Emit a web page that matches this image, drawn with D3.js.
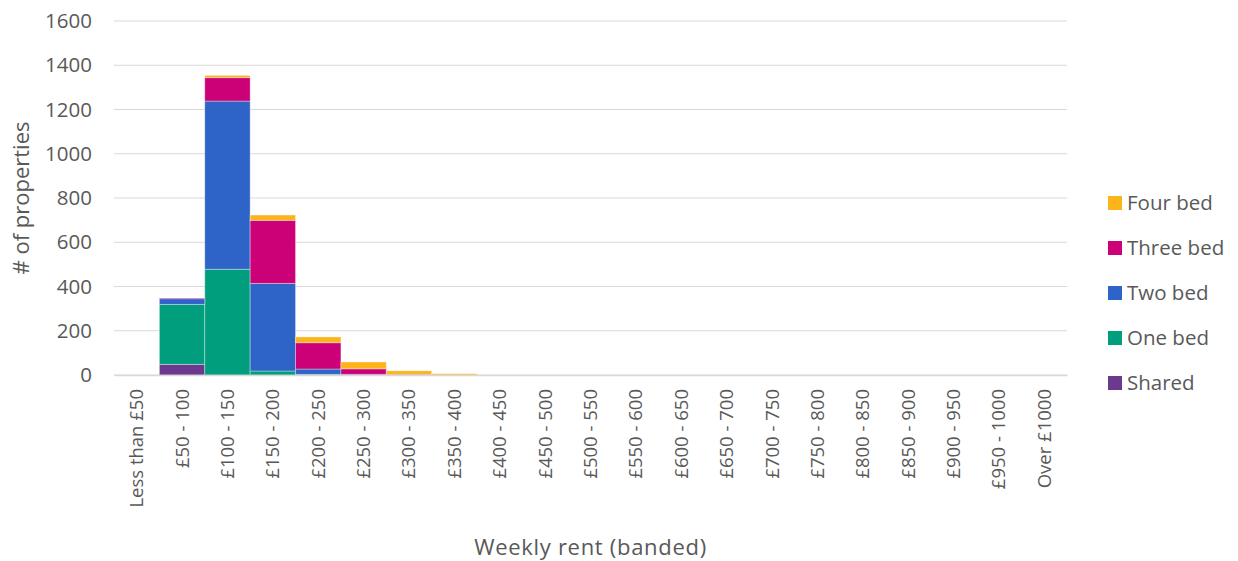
<!DOCTYPE html>
<html>
<head>
<meta charset="utf-8">
<script src="https://d3js.org/d3.v7.min.js"></script>
<style>
  body { margin: 0; background: #fff; }
  text { font-family: "Open Sans", sans-serif; fill: #595959; }
</style>
</head>
<body>
<div id="chart"></div>
<script>
  // rent bands along the x axis
  const bands = ['Less than £50', '£50 - 100', '£100 - 150', '£150 - 200', '£200 - 250',
    '£250 - 300', '£300 - 350', '£350 - 400', '£400 - 450', '£450 - 500', '£500 - 550',
    '£550 - 600', '£600 - 650', '£650 - 700', '£700 - 750', '£750 - 800', '£800 - 850',
    '£850 - 900', '£900 - 950', '£950 - 1000', 'Over £1000'];

  // counts per band, stacked bottom to top
  const shared   = [0, 48, 0, 0, 0, 0, 0, 0, 0, 0, 0, 0, 0, 0, 0, 0, 0, 0, 0, 0, 0];
  const oneBed   = [0, 271, 478, 18, 3, 0, 0, 0, 0, 0, 0, 0, 0, 0, 0, 0, 0, 0, 0, 0, 0];
  const twoBed   = [0, 26, 760, 396, 24, 3, 0, 0, 0, 0, 0, 0, 0, 0, 0, 0, 0, 0, 0, 0, 0];
  const threeBed = [0, 3, 106, 285, 119, 25, 3, 0, 0, 0, 0, 0, 0, 0, 0, 0, 0, 0, 0, 0, 0];
  const fourBed  = [0, 0, 10, 24, 26, 31, 16, 6, 0, 0, 0, 0, 0, 0, 0, 0, 0, 0, 0, 0, 0];

  const seriesNames = ['Shared', 'One bed', 'Two bed', 'Three bed', 'Four bed'];
  const seriesColors = ['#6B3A8F', '#009E7C', '#2E63C8', '#CC0077', '#FBB41A'];
  const yTicks = [0, 200, 400, 600, 800, 1000, 1200, 1400, 1600];

  const W = 1238, H = 561;
  const margin = {top: 21, right: 171, bottom: 186, left: 114};
  const width = W - margin.left - margin.right,
    height = H - margin.top - margin.bottom;

  const svg = d3.select('#chart').append('svg')
    .attr('width', W).attr('height', H);
  const g = svg.append('g')
    .attr('transform', 'translate(' + margin.left + ',' + margin.top + ')');

  const table = bands.map(function (b, i) {
    return {band: b, 'Shared': shared[i], 'One bed': oneBed[i], 'Two bed': twoBed[i],
      'Three bed': threeBed[i], 'Four bed': fourBed[i]};
  });
  const stacked = d3.stack().keys(seriesNames)(table);

  const x = d3.scaleBand().domain(bands).range([0, width]).padding(0);
  const y = d3.scaleLinear().domain([0, 1600]).range([height, 0]);

  // gridlines
  g.append('g').selectAll('line')
    .data(yTicks)
    .enter().append('line')
    .attr('x1', 0).attr('x2', width)
    .attr('y1', function (d) { return y(d); })
    .attr('y2', function (d) { return y(d); })
    .attr('stroke', '#d9d9d9').attr('stroke-width', 1);

  // y axis labels
  const yAxis = g.append('g')
    .call(d3.axisLeft(y).tickValues(yTicks).tickFormat(d3.format('d')).tickSize(0).tickPadding(22));
  yAxis.select('.domain').remove();
  yAxis.selectAll('text').style('font-size', '20.5px').style('fill', '#595959')
    .style('font-family', '"Open Sans", sans-serif');

  // bars
  g.append('g').selectAll('g')
    .data(stacked)
    .enter().append('g')
    .attr('fill', function (d, i) { return seriesColors[i]; })
    .selectAll('rect')
    .data(function (d) { return d; })
    .enter().append('rect')
    .attr('x', function (d) { return x(d.data.band); })
    .attr('width', x.bandwidth())
    .attr('y', function (d) { return y(d[1]); })
    .attr('height', function (d) { return y(d[0]) - y(d[1]); })
    .attr('stroke', 'rgba(255,255,255,0.35)')
    .attr('stroke-width', function (d) { return d[1] > d[0] ? 1 : 0; });

  // x axis
  const xAxis = g.append('g')
    .attr('transform', 'translate(0,' + height + ')')
    .call(d3.axisBottom(x).tickSize(0));
  xAxis.select('.domain').attr('stroke', '#d9d9d9').attr('stroke-width', 1.5);
  xAxis.selectAll('text')
    .style('font-size', '18.5px').style('fill', '#595959')
    .style('font-family', '"Open Sans", sans-serif')
    .attr('transform', 'rotate(-90)')
    .attr('text-anchor', 'end')
    .attr('dy', '0.35em')
    .attr('x', -14).attr('y', 0);

  // axis titles
  svg.append('text')
    .attr('transform', 'translate(29,' + (margin.top + height / 2) + ') rotate(-90)')
    .attr('text-anchor', 'middle')
    .style('font-size', '22px')
    .text('# of properties');
  svg.append('text')
    .attr('x', margin.left + width / 2).attr('y', 555)
    .attr('text-anchor', 'middle')
    .style('font-size', '22px')
    .style('letter-spacing', '0.7px')
    .text('Weekly rent (banded)');

  // legend, top entry is Four bed
  const legend = svg.append('g').attr('transform', 'translate(1108,203)');
  const order = seriesNames.slice().reverse();
  const item = legend.selectAll('g')
    .data(order)
    .enter().append('g')
    .attr('transform', function (d, i) { return 'translate(0,' + i * 45 + ')'; });
  item.append('rect')
    .attr('x', 0).attr('y', -7).attr('width', 14).attr('height', 14)
    .attr('fill', function (d) { return seriesColors[seriesNames.indexOf(d)]; });
  item.append('text')
    .attr('x', 19).attr('y', 0).attr('dy', '0.35em')
    .style('font-size', '20.5px')
    .text(function (d) { return d; });
</script>
</body>
</html>
